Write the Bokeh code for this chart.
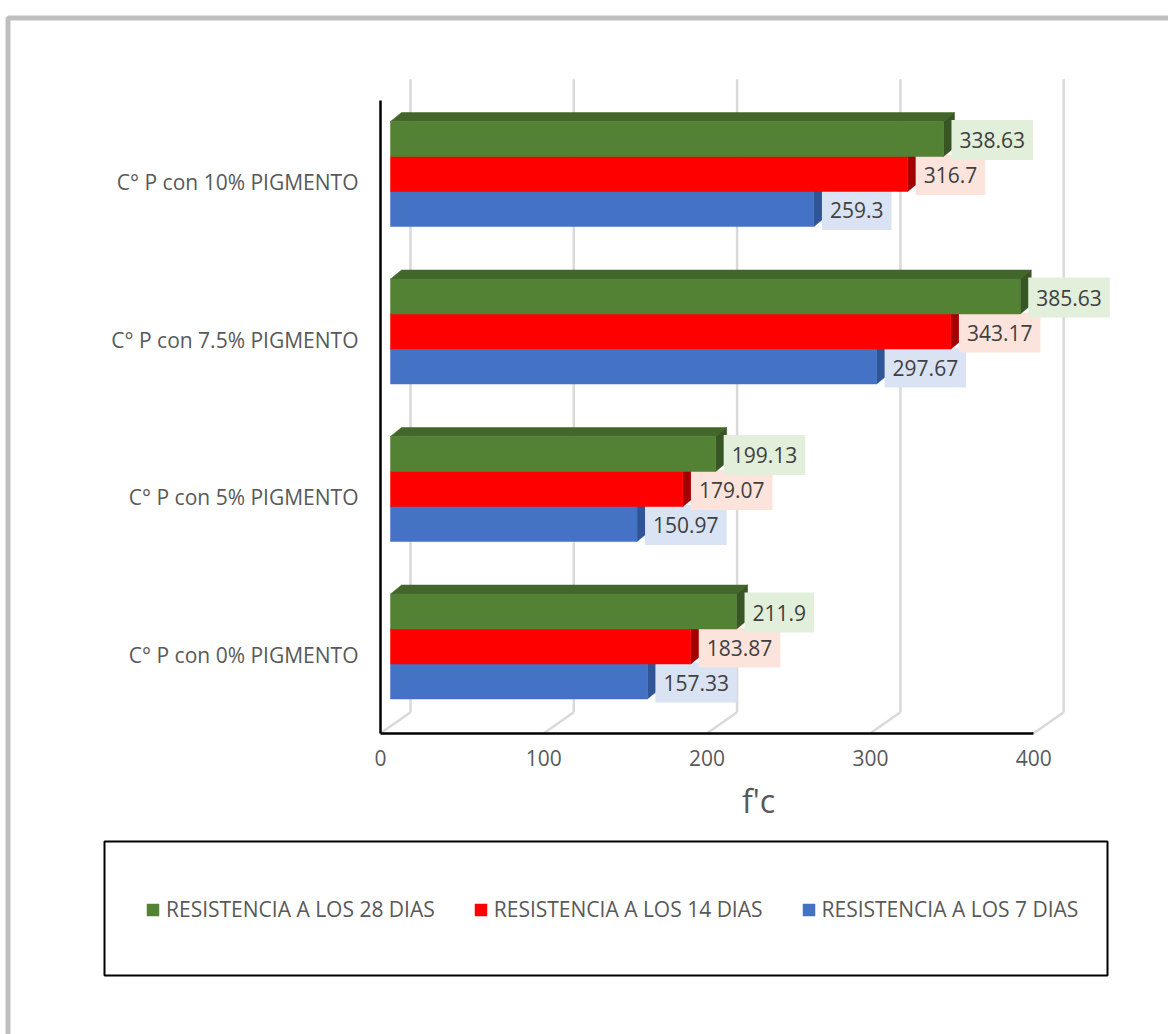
from bokeh.plotting import figure
from bokeh.models import Range1d, LinearAxis, FixedTicker, Legend, LegendItem, ColumnDataSource
from bokeh.core.properties import value
from bokeh.embed import file_html
from bokeh.resources import INLINE

# ---- data ----
categories = ["C° P con 0% PIGMENTO", "C° P con 5% PIGMENTO",
              "C° P con 7.5% PIGMENTO", "C° P con 10% PIGMENTO"]
r7 = [157.33, 150.97, 297.67, 259.3]
r14 = [183.87, 179.07, 343.17, 316.7]
r28 = [211.9, 199.13, 385.63, 338.63]
series_names = ["RESISTENCIA A LOS 7 DIAS", "RESISTENCIA A LOS 14 DIAS", "RESISTENCIA A LOS 28 DIAS"]
x_ticks = [0, 100, 200, 300, 400]
x_title = "f'c"

# ---- layout constants (pixels) ----
W, H = 1168, 1034
PPX = 1.633      # px per f'c unit
X0 = 380         # px of value 0 on the front plane
PPY = 157.5      # px per category
Y0 = 654         # px of first category centre on the front plane

def dx(px):
    return px / PPX

def dy(px):
    return px / PPY

FONT = "Open Sans"
GREY_TXT = "#595959"

p = figure(width=W, height=H,
           x_range=Range1d(-X0 / PPX, (W - X0) / PPX),
           y_range=Range1d((Y0 - H) / PPY, Y0 / PPY),
           x_axis_type=None, y_axis_type=None, min_border=0,
           toolbar_location=None, output_backend="svg",
           outline_line_color=None, background_fill_color="white",
           border_fill_color="white")
p.extra_x_ranges = {"px": Range1d(0, W)}
p.extra_y_ranges = {"px": Range1d(H, 0)}

floor = -0.5
front_top = len(categories) - 0.5 + dy(3)
BACK_DX, BACK_DY = dx(30), dy(21)
back_top = front_top + BACK_DY

# back-wall gridlines and floor diagonals
grid_col = "#D9D9D9"
p.segment(x0=[t + BACK_DX for t in x_ticks], y0=floor + BACK_DY,
          x1=[t + BACK_DX for t in x_ticks], y1=back_top,
          line_color=grid_col, line_width=2.5)
p.segment(x0=x_ticks, y0=floor, x1=[t + BACK_DX for t in x_ticks], y1=floor + BACK_DY,
          line_color=grid_col, line_width=2.5)

# ---- 3D bars ----
DXB, DYB = dx(10), dy(8)
BH = dy(35)
DDX, DDY = dx(11), dy(9)

styles = [
    (r7, "#4472C4", "#3A63AC", "#2F5597", "#DAE3F3", -1),
    (r14, "#FF0000", "#C00000", "#A30000", "#FCE4DC", 0),
    (r28, "#548235", "#43672A", "#375623", "#E2EFDA", 1),
]
front_renderers = []
for vals, c_front, c_top, c_side, c_lab, k in styles:
    n = len(vals)
    left = [DXB] * n
    right = [v + DXB for v in vals]
    yc = [i + DYB + k * BH for i in range(n)]
    bot = [y - BH / 2 for y in yc]
    top = [y + BH / 2 for y in yc]
    src = ColumnDataSource(dict(
        left=left, right=right, bottom=bot, top=top, yc=yc,
        label=[str(v) for v in vals],
        top_xs=[[l, l + DDX, r + DDX, r] for l, r in zip(left, right)],
        top_ys=[[t, t + DDY, t + DDY, t] for t in top],
        side_xs=[[r, r + DDX, r + DDX, r] for r in right],
        side_ys=[[b, b + DDY, t + DDY, t] for b, t in zip(bot, top)],
    ))
    p.patches(xs="top_xs", ys="top_ys", source=src, fill_color=c_top, line_color=c_top, line_width=0.5)
    p.patches(xs="side_xs", ys="side_ys", source=src, fill_color=c_side, line_color=c_side, line_width=0.5)
    fr = p.quad(left="left", right="right", bottom="bottom", top="top", source=src,
                fill_color=c_front, line_color=c_front, line_width=0.5)
    front_renderers.append(fr)
    p.text(x="right", y="yc", text="label", source=src, x_offset=8, y_offset=1,
           text_align="left", text_baseline="middle",
           text_font=value(FONT), text_font_size="21px", text_color="#404040",
           background_fill_color=c_lab,
           padding=dict(left=8, right=8, top=12, bottom=12))

# ---- axes ----
xaxis = LinearAxis(fixed_location=floor, bounds=(0, x_ticks[-1]),
                   ticker=FixedTicker(ticks=x_ticks),
                   axis_line_color="black", axis_line_width=2.5,
                   major_tick_out=0, major_tick_in=0, minor_tick_out=0, minor_tick_in=0,
                   major_label_standoff=17,
                   major_label_text_font=FONT, major_label_text_font_size="21px",
                   major_label_text_color=GREY_TXT)
p.add_layout(xaxis, "below")

yaxis = LinearAxis(fixed_location=0, bounds=(floor, front_top),
                   ticker=FixedTicker(ticks=list(range(len(categories)))),
                   major_label_overrides={i: c for i, c in enumerate(categories)},
                   axis_line_color="black", axis_line_width=2.5,
                   major_tick_out=0, major_tick_in=0, minor_tick_out=0, minor_tick_in=0,
                   major_label_standoff=22,
                   major_label_text_font=FONT, major_label_text_font_size="21px",
                   major_label_text_color=GREY_TXT)
p.add_layout(yaxis, "left")

# axis title
p.text(x=[758], y=[800], text=[x_title], x_range_name="px", y_range_name="px",
       text_align="center", text_baseline="middle",
       text_font=value(FONT), text_font_size="32px", text_color=GREY_TXT)

# ---- legend ----
p.quad(left=[104], right=[1107], top=[841], bottom=[975], x_range_name="px", y_range_name="px",
       fill_color=None, line_color="black", line_width=2)
legend = Legend(items=[LegendItem(label=series_names[2], renderers=[front_renderers[2]]),
                       LegendItem(label=series_names[1], renderers=[front_renderers[1]]),
                       LegendItem(label=series_names[0], renderers=[front_renderers[0]])],
                orientation="horizontal", location=(145, 111),
                glyph_width=15, glyph_height=15, label_standoff=6, spacing=38,
                padding=0, margin=0, border_line_color=None, background_fill_alpha=0,
                label_text_font=FONT, label_text_font_size="21px", label_text_color=GREY_TXT)
p.add_layout(legend)

# outer frame of the chart area
p.quad(left=[7.5], right=[W + 20], top=[17.5], bottom=[H + 20], x_range_name="px", y_range_name="px",
       fill_color=None, line_color="#BFBFBF", line_width=5)

open("out.html", "w").write(file_html(p, INLINE))
